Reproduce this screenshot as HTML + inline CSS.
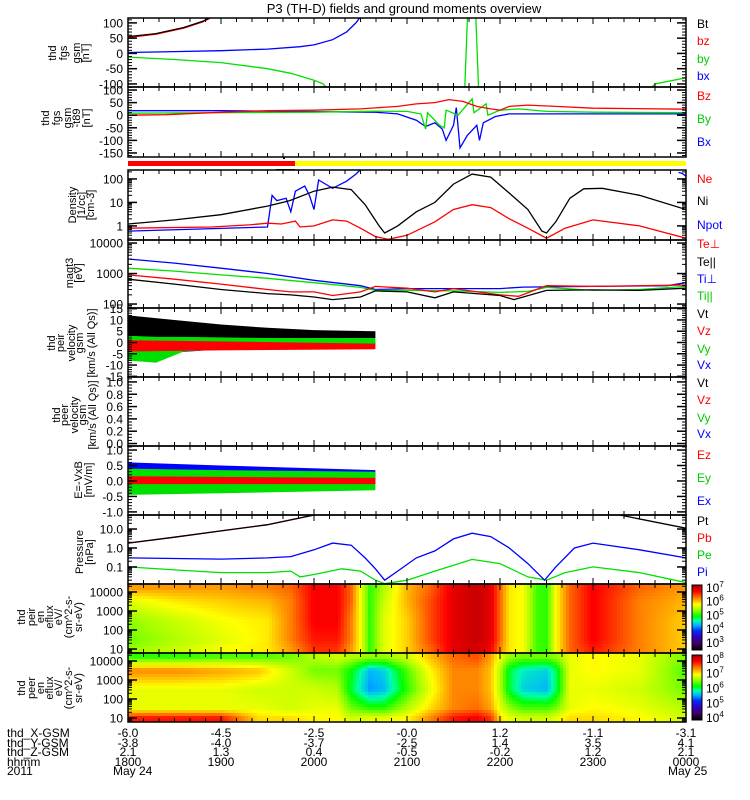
<!DOCTYPE html>
<html><head><meta charset="utf-8"><title>P3 (TH-D) overview</title>
<style>
html,body{margin:0;padding:0;background:#fff;}
svg{display:block;font-family:"Liberation Sans",sans-serif;}
text{fill:#000;}
</style></head>
<body>
<svg id="chart" width="750" height="800" viewBox="0 0 750 800">
<rect x="0" y="0" width="750" height="800" fill="#fff"/>
<text x="404" y="13" font-size="13" text-anchor="middle">P3 (TH-D) fields and ground moments overview</text>
<g id="heat"></g>
<g id="marks"></g>
<g id="axes"></g>
</svg>
<script>
// ---------- data ----------
const hourLabels = ["1800","1900","2000","2100","2200","2300","0000"];
const posX = ["-6.0","-4.5","-2.5","-0.0","1.2","-1.1","-3.1"];
const posY = ["-3.8","-4.0","-3.7","-2.5","1.4","3.5","4.1"];
const posZ = ["2.1","1.3","0.4","-0.5","-0.2","1.2","2.1"];

const fgsBt = [[0,55],[0.3,65],[0.6,85],[0.8,105],[0.9,120]];
const fgsBz = [[0,52],[0.3,63],[0.6,83],[0.8,103],[0.9,118]];
const fgsBx = [[0,3],[0.5,6],[1.0,9],[1.5,14],[1.85,22],[2.0,28],[2.2,45],[2.35,70],[2.45,100],[2.5,120]];
const fgsBy = [[0,-12],[0.5,-20],[1.0,-30],[1.5,-50],[1.75,-65],[2.0,-88],[2.1,-100],[2.15,-120]];
const fgsBySpike = [[3.62,-120],[3.66,200],[3.73,200],[3.77,-120]];
const fgsByEnd = [[5.6,-120],[5.67,-100],[6.0,-80]];

const t89Bz = [[0,0],[0.4,2],[0.9,10],[1.5,18],[2.0,20],[2.5,25],[2.66,29],[2.9,35],[3.1,45],[3.3,50],[3.45,62],[3.6,55],[3.75,35],[3.9,25],[4.0,20],[4.1,35],[4.3,40],[4.6,35],[5.0,28],[6.0,24]];
const t89By = [[0,8],[2.0,12],[2.66,16],[3.0,15],[3.15,5],[3.2,-55],[3.22,10],[3.35,-40],[3.4,-50],[3.42,20],[3.55,0],[3.7,65],[3.72,10],[3.85,45],[3.87,0],[4.0,20],[4.2,25],[4.5,15],[5.0,12],[6.0,10]];
const t89Bx = [[0,18],[1.0,18],[2.0,14],[2.66,12],[2.9,5],[3.1,-20],[3.2,-45],[3.3,-30],[3.38,-55],[3.42,-100],[3.5,-40],[3.53,30],[3.57,-130],[3.65,-80],[3.75,-40],[3.78,-100],[3.82,-30],[3.95,-5],[4.1,5],[4.5,5],[6.0,5]];

const densNi = [[0,1.2],[0.5,1.8],[1.0,3],[1.5,7],[1.74,12],[2.0,30],[2.2,45],[2.4,35],[2.55,8],[2.7,1],[2.76,0.5],[2.9,1.0],[3.1,4],[3.3,10],[3.5,60],[3.7,160],[3.9,120],[4.1,25],[4.3,5],[4.45,0.6],[4.5,0.5],[4.6,1.5],[4.75,15],[4.9,38],[5.1,40],[5.5,20],[6.0,5]];
const densNe = [[0,0.8],[0.9,0.9],[1.3,1.1],[1.5,1.3],[1.65,1.2],[1.8,1.6],[1.85,0.9],[2.0,1.0],[2.2,1.8],[2.35,1.6],[2.5,0.8],[2.66,0.35],[2.8,0.27],[3.0,0.4],[3.3,1.5],[3.5,5],[3.7,8],[3.9,6],[4.1,2],[4.3,0.8],[4.5,0.3],[4.7,0.8],[5.0,1.8],[5.5,1.0],[6.0,0.3]];
const densNpot = [[0,0.6],[1.5,0.9],[1.55,20],[1.6,12],[1.7,15],[1.75,4],[1.8,30],[1.9,50],[1.95,20],[2.0,5],[2.05,90],[2.2,40],[2.35,80],[2.45,160],[2.5,250]];
const densNpotEnd = [[5.92,190],[5.96,170],[6.0,130]];

const tempTiPerp = [[0,3000],[0.5,2200],[1.0,1500],[1.5,1000],[2.0,600],[2.5,400],[2.66,300],[3.0,320],[4.0,320],[4.25,360],[5.0,380],[5.8,400],[6.0,500]];
const tempTiPar = [[0,1500],[0.5,1200],[1.0,900],[1.5,700],[2.0,500],[2.5,350],[2.66,280],[3.0,280],[3.5,270],[4.0,240],[4.3,260],[4.5,350],[5.0,280],[5.5,300],[6.0,380]];
const tempTePerp = [[0,900],[0.5,650],[1.0,450],[1.5,300],[1.75,250],[2.0,250],[2.2,190],[2.5,250],[2.66,380],[3.0,330],[3.3,250],[3.5,320],[4.0,200],[4.2,180],[4.5,400],[5.0,380],[6.0,420]];
const tempTePar = [[0,650],[0.5,450],[1.0,300],[1.5,220],[1.75,200],[2.0,170],[2.2,140],[2.5,170],[2.66,270],[3.0,250],[3.3,160],[3.5,250],[4.0,190],[4.15,140],[4.5,280],[5.0,290],[5.5,280],[6.0,330]];

// envelopes [t, low, high]
const velVt = [[0,0,12],[0.5,0,10],[1.0,1,8],[1.5,1.5,6.5],[2.0,2,5.5],[2.66,2,5]];
const velVx = [[0,-6,2],[1.0,-3,1],[2.66,-1,0.5]];
const velVy = [[0,-8,3],[0.3,-9,2.5],[0.6,-4,2.5],[1.5,-2,2],[2.66,-1,2]];
const velVz = [[0,-4,1],[1.0,-3.5,0.5],[2.66,-3,-0.5]];
const efEx = [[0,-0.4,0.6],[1.0,-0.2,0.5],[2.66,-0.1,0.35]];
const efEy = [[0,-0.45,0.4],[1.0,-0.4,0.35],[2.66,-0.3,0.3]];
const efEz = [[0,-0.1,0.15],[2.66,-0.1,0.1]];

const presPt = [[0,1.8],[0.5,3.7],[1.0,8],[1.5,17],[2.0,55],[2.1,80]];
const presPtEnd = [[5.2,70],[5.25,60],[6.0,11]];
const presPi = [[0,0.3],[0.5,0.28],[1.0,0.26],[1.5,0.3],[1.75,0.35],[2.0,0.8],[2.2,1.8],[2.4,1.4],[2.55,0.3],[2.66,0.08],[2.76,0.02],[2.9,0.06],[3.1,0.3],[3.3,0.7],[3.5,3],[3.7,6],[3.9,4],[4.1,1],[4.3,0.15],[4.48,0.02],[4.6,0.1],[4.8,1],[5.0,1.8],[5.5,0.8],[6.0,0.3]];
const presPe = [[0,0.1],[0.5,0.07],[1.0,0.05],[1.5,0.05],[1.75,0.06],[1.85,0.03],[2.0,0.04],[2.3,0.08],[2.5,0.06],[2.66,0.02],[2.76,0.013],[3.0,0.02],[3.3,0.06],[3.7,0.25],[4.0,0.15],[4.3,0.03],[4.5,0.02],[4.7,0.05],[5.0,0.1],[5.5,0.05],[6.0,0.015]];

// spectrogram grids: log10 energy rows, time columns, log10 flux
const specEnergies = [4.2,3.5,2.5,1.5,1.0];
const peirTimes = [0,0.5,1.0,1.5,1.75,2.0,2.25,2.4,2.5,2.6,2.75,3.0,3.25,3.5,3.75,3.9,4.0,4.1,4.25,4.4,4.5,4.6,4.75,5.0,5.5,6.0];
const peirFlux = [
[6.1,5.6,5.3,5.2,5.3],[6.1,5.8,5.5,5.4,5.5],[6.1,5.9,5.7,5.6,5.7],[6.2,6.0,5.8,5.8,5.8],[6.3,6.2,6.2,6.2,6.1],
[6.7,6.7,6.7,6.6,6.5],[6.7,6.7,6.7,6.6,6.5],[6.3,6.3,6.2,6.2,6.1],[5.7,5.7,5.7,5.7,5.7],[5.0,5.0,5.0,5.0,5.0],
[5.4,5.5,5.6,5.6,5.6],[6.0,6.0,5.9,5.9,5.9],[6.3,6.4,6.4,6.4,6.3],[6.8,6.8,6.8,6.8,6.8],[6.95,6.95,6.95,6.95,6.9],
[6.8,6.8,6.8,6.8,6.7],[6.3,6.3,6.3,6.3,6.2],[5.8,5.8,5.8,5.8,5.8],[5.7,5.7,5.7,5.7,5.7],[5.05,5.05,5.05,5.05,5.05],
[5.0,5.0,5.0,5.0,5.0],[5.7,5.7,5.7,5.7,5.7],[6.3,6.3,6.3,6.3,6.3],[6.7,6.7,6.7,6.7,6.6],[6.3,6.2,6.2,6.2,6.2],[6.1,6.0,5.9,5.9,5.9]];
const peerTimes = [0,0.5,1.0,1.4,1.75,2.0,2.25,2.4,2.6,2.75,3.0,3.25,3.5,3.75,3.9,4.0,4.1,4.25,4.5,4.6,4.75,5.0,5.5,6.0];
const peerFlux = [
[6.2,7.3,6.8,6.8,7.7],[6.2,7.3,6.8,6.8,7.7],[6.3,7.2,6.8,6.8,7.7],[6.3,7.1,6.7,6.8,7.0],[6.4,6.7,6.7,6.7,7.0],
[6.6,6.4,6.7,6.8,6.9],[6.7,6.4,6.6,6.8,6.9],[6.6,6.1,6.0,6.4,6.7],[6.5,5.5,5.4,6.2,6.8],[6.5,5.6,5.5,6.2,6.8],
[6.7,6.3,6.2,6.6,6.9],[7.1,6.9,6.8,7.0,7.3],[7.4,7.3,7.3,7.3,7.7],[7.5,7.3,7.3,7.4,7.8],[7.2,7.1,7.1,7.2,7.6],
[6.8,6.6,6.6,6.8,7.0],[6.5,6.0,6.0,6.5,6.8],[6.4,5.7,5.6,6.3,6.7],[6.4,5.6,5.5,6.3,6.7],[6.5,5.9,5.9,6.4,6.8],
[6.8,6.8,6.8,6.8,7.0],[6.9,6.9,6.8,6.9,7.0],[6.8,6.8,6.7,6.8,6.9],[6.4,6.3,6.4,6.6,6.7]];

// ---------- layout ----------
const NS = "http://www.w3.org/2000/svg";
const X0 = 128, X1 = 686, PXH = 93;
const panels = {
 p1:{y0:18,y1:87,log:false,d0:-110,d1:116},
 p2:{y0:87,y1:157,log:false,d0:-166,d1:112},
 p3:{y0:170,y1:240,log:true,d0:-0.6,d1:2.38},
 p4:{y0:240,y1:308,log:true,d0:1.87,d1:4.1},
 p5:{y0:308,y1:377,log:false,d0:-15.3,d1:15.3},
 p6:{y0:377,y1:446,log:false,d0:-0.04,d1:1.08},
 p7:{y0:446,y1:515,log:false,d0:-1.1,d1:1.13},
 p8:{y0:515,y1:584,log:true,d0:-1.9,d1:1.74},
 p9:{y0:584,y1:653,log:true,d0:0.79,d1:4.42},
 p10:{y0:653,y1:722,log:true,d0:0.79,d1:4.42}
};
function sx(t){ return X0 + t*PXH; }
function sy(p,v){ const P=panels[p]; const a=P.log?Math.log10(v):v; return P.y1-(a-P.d0)/(P.d1-P.d0)*(P.y1-P.y0); }
function mk(tag, attrs, parent){ const e=document.createElementNS(NS,tag); for(const k in attrs) e.setAttribute(k,attrs[k]); (parent||document.getElementById('marks')).appendChild(e); return e; }

const svg = document.getElementById('chart');
const defs = mk('defs',{},svg);
for (const p in panels){
  const P=panels[p];
  const cp = mk('clipPath',{id:'clip-'+p},defs);
  mk('rect',{x:X0,y:P.y0,width:X1-X0,height:P.y1-P.y0},cp);
}

function line(p, data, color, name){
  const pts = data.map(d=>sx(d[0]).toFixed(1)+','+sy(p,d[1]).toFixed(1)).join(' ');
  const el = mk('polyline',{points:pts,fill:'none',stroke:color,'stroke-width':1.3,'clip-path':'url(#clip-'+p+')'});
  
  
}
function band(p, data, color, name){
  const up = data.map(d=>sx(d[0]).toFixed(1)+','+sy(p,d[2]).toFixed(1));
  const lo = data.slice().reverse().map(d=>sx(d[0]).toFixed(1)+','+sy(p,d[1]).toFixed(1));
  const el = mk('polygon',{points:up.concat(lo).join(' '),fill:color,'clip-path':'url(#clip-'+p+')'});
  
  
}

// colormap
const cstops=[[0,[0,0,0]],[0.1,[64,0,96]],[0.2,[48,0,192]],[0.3,[0,48,255]],[0.38,[0,176,255]],[0.45,[0,255,176]],[0.52,[0,255,0]],[0.62,[160,255,0]],[0.7,[255,255,0]],[0.8,[255,128,0]],[0.9,[255,0,0]],[1,[160,0,0]]];
function cmap(f){
  f=Math.max(0,Math.min(1,f));
  for(let i=1;i<cstops.length;i++){ if(f<=cstops[i][0]){ const a=cstops[i-1],b=cstops[i]; const u=(f-a[0])/(b[0]-a[0]); const c=a[1].map((v,k)=>Math.round(v+(b[1][k]-v)*u)); return 'rgb('+c.join(',')+')'; } }
  return 'rgb(160,0,0)';
}
function lerpIdx(arr, v){
  if(v<=arr[0]) return [0,0,0]; if(v>=arr[arr.length-1]) return [arr.length-1,arr.length-1,0];
  for(let i=1;i<arr.length;i++) if(v<=arr[i]) return [i-1,i,(v-arr[i-1])/(arr[i]-arr[i-1])];
}
function specValue(times, flux, t, le){
  const [i0,i1,u]=lerpIdx(times,t);
  const eAsc = specEnergies.slice().reverse();
  const [j0,j1,w]=lerpIdx(eAsc,le);
  const n=specEnergies.length;
  const g=(i,j)=>flux[i][n-1-j];
  const a=g(i0,j0)*(1-w)+g(i0,j1)*w, b=g(i1,j0)*(1-w)+g(i1,j1)*w;
  return a*(1-u)+b*u;
}
function spectrogram(p, times, flux, vmin, vmax, name){
  const P=panels[p]; const g=mk('g',{},document.getElementById('heat'));
  
  
  const step=3;
  for(let x=X0;x<X1;x+=step){
    const t=(x+step/2-X0)/PXH;
    for(let y=P.y0;y<P.y1;y+=step){
      const le=P.d1-((y+step/2-P.y0)/(P.y1-P.y0))*(P.d1-P.d0);
      const v=specValue(times,flux,t,le);
      mk('rect',{x:x,y:y,width:step+0.4,height:step+0.4,fill:cmap((v-vmin)/(vmax-vmin))},g);
    }
  }
}
spectrogram('p9', peirTimes, peirFlux, 2.4, 7.15, 'peir-spectrogram');
spectrogram('p10', peerTimes, peerFlux, 3.8, 8.2, 'peer-spectrogram');

// series
line('p1', fgsBx, '#0000ff', 'fgs-bx');
line('p1', fgsBy, '#00e000', 'fgs-by');
line('p1', fgsBySpike, '#00e000', 'fgs-by-spike');
line('p1', fgsByEnd, '#00e000', 'fgs-by-end');
line('p1', fgsBz, '#ff0000', 'fgs-bz');
line('p1', fgsBt, '#000000', 'fgs-bt');
line('p2', t89Bx, '#0000ff', 't89-bx');
line('p2', t89By, '#00e000', 't89-by');
line('p2', t89Bz, '#ff0000', 't89-bz');
line('p3', densNpot, '#0000ff', 'density-npot');
line('p3', densNpotEnd, '#0000ff', 'density-npot-end');
line('p3', densNi, '#000000', 'density-ni');
line('p3', densNe, '#ff0000', 'density-ne');
line('p4', tempTiPerp, '#0000ff', 'temp-ti-perp');
line('p4', tempTiPar, '#00e000', 'temp-ti-par');
line('p4', tempTePerp, '#ff0000', 'temp-te-perp');
line('p4', tempTePar, '#000000', 'temp-te-par');
band('p5', velVt, '#000000', 'peir-vt');
band('p5', velVx, '#0000ff', 'peir-vx');
band('p5', velVy, '#00e000', 'peir-vy');
band('p5', velVz, '#ff0000', 'peir-vz');
band('p7', efEx, '#0000ff', 'efield-ex');
band('p7', efEy, '#00e000', 'efield-ey');
band('p7', efEz, '#ff0000', 'efield-ez');
line('p8', presPe, '#00e000', 'pressure-pe');
line('p8', presPi, '#0000ff', 'pressure-pi');
line('p8', presPt, '#ff0000', 'pressure-pb');
line('p8', presPt, '#000000', 'pressure-pt');
line('p8', presPtEnd, '#000000', 'pressure-pt-end');

// mode bar
const ax = document.getElementById('axes');
let el;
el = mk('rect',{x:X0,y:161,width:295-X0,height:5,fill:'#ff0000'},ax);


el = mk('rect',{x:295,y:161,width:X1-295,height:5,fill:'#ffff00'},ax);


mk('rect',{x:283,y:157,width:2,height:2,fill:'#000'},ax);
mk('line',{x1:276,y1:169.5,x2:295,y2:169.5,stroke:'#000','stroke-width':1},ax);

// axes
const yTicks = {
 p1:{major:[-100,-50,0,50,100],labels:["-100","-50","0","50","100"],minor:10},
 p2:{major:[-150,-100,-50,0,50,100],labels:["-150","-100","-50","0","50","100"],minor:10},
 p3:{major:[1,10,100],labels:["1","10","100"]},
 p4:{major:[100,1000,10000],labels:["100","1000","10000"]},
 p5:{major:[-15,-10,-5,0,5,10,15],labels:["-15","-10","-5","0","5","10","15"],minor:1},
 p6:{major:[0,0.2,0.4,0.6,0.8,1.0],labels:["0.0","0.2","0.4","0.6","0.8","1.0"],minor:0.05},
 p7:{major:[-1,-0.5,0,0.5,1],labels:["-1.0","-0.5","0.0","0.5","1.0"],minor:0.1},
 p8:{major:[0.1,1,10],labels:["0.1","1.0","10.0"]},
 p9:{major:[10,100,1000,10000],labels:["10","100","1000","10000"]},
 p10:{major:[10,100,1000,10000],labels:["10","100","1000","10000"]}
};
for(const p in panels){
  const P=panels[p], T=yTicks[p];
  const g=mk('g',{},ax);
  
  
  for(let m=10;m<360;m+=10){ const x=sx(m/60); const L=(m%60===0)?6:4;
    mk('line',{x1:x,y1:P.y0,x2:x,y2:P.y0+L,stroke:'#000','stroke-width':1},g);
    mk('line',{x1:x,y1:P.y1,x2:x,y2:P.y1-L,stroke:'#000','stroke-width':1},g); }
  const minors=[];
  if(P.log){ for(let d=Math.floor(P.d0);d<=Math.ceil(P.d1);d++) for(let k=2;k<=9;k++){ const v=k*Math.pow(10,d); const lv=Math.log10(v); if(lv>P.d0&&lv<P.d1) minors.push(v);} }
  else { for(let v=Math.ceil(P.d0/T.minor)*T.minor; v<P.d1; v+=T.minor) minors.push(v); }
  minors.forEach(v=>{ const y=sy(p,v); mk('line',{x1:X0,y1:y,x2:X0+4,y2:y,stroke:'#000'},g); mk('line',{x1:X1,y1:y,x2:X1-4,y2:y,stroke:'#000'},g); });
  T.major.forEach((v,i)=>{ const y=sy(p,v); mk('line',{x1:X0,y1:y,x2:X0+9,y2:y,stroke:'#000','stroke-width':1.5},g); mk('line',{x1:X1,y1:y,x2:X1-9,y2:y,stroke:'#000','stroke-width':1.5},g);
    const t=mk('text',{x:123,y:y+4.5,'font-size':12,'text-anchor':'end'},g); t.textContent=T.labels[i];
    
     });
  mk('rect',{x:X0,y:P.y0,width:X1-X0,height:P.y1-P.y0,fill:'none',stroke:'#000','stroke-width':1.5},g);
}

// left titles
function vtitle(lines, xs, cy, name, fs){
  const g=mk('g',{},ax);
  
  
  lines.forEach((s,i)=>{ const t=mk('text',{transform:'translate('+xs[i]+','+cy+') rotate(-90)','font-size':fs||11,'text-anchor':'middle','dominant-baseline':'central'},g); t.textContent=s; });
}
vtitle(["thd","fgs","gsm","[nT]"],[53,64,77,86],53,'fgs-title');
vtitle(["thd","fgs","gsm","-t89","[nT]"],[46,57,68,77,87],118,'t89-title');
vtitle(["Density","[1/cc]","[cm-3]"],[73,82,91],205,'density-title');
vtitle(["magt3","[eV]"],[70,79],273,'temp-title');
vtitle(["thd","peir","velocity","gsm","[km/s (All Qs)]"],[52,61,72,80,92],343,'peir-vel-title');
vtitle(["thd","peer","velocity","gsm","[km/s (All Qs)]"],[57,65,75,83,93],415,'peer-vel-title');
vtitle(["E=-VxB","[mV/m]"],[79,89],480,'efield-title');
vtitle(["Pressure","[nPa]"],[80,90],552,'pressure-title');
vtitle(["thd","peir","en","eflux","eV/","(cm^2-s-","sr-eV)"],[22,32,41,50,59,69,79],617,'peir-spec-title');
vtitle(["thd","peer","en","eflux","eV/","(cm^2-s-","sr-eV)"],[22,32,41,50,59,69,79],688,'peer-spec-title');

// right legends
const legends=[["Bt",24,"#000"],["bz",41,"#f00"],["by",59,"#0c0"],["bx",76,"#00f"],
["Bz",96,"#f00"],["By",119,"#0c0"],["Bx",142,"#00f"],
["Ne",179,"#f00"],["Ni",201,"#000"],["Npot",225,"#00f"],
["Te\u22A5",244,"#f00"],["Te||",262,"#000"],["Ti\u22A5",279,"#00f"],["Ti||",296,"#0c0"],
["Vt",314,"#000"],["Vz",331,"#f00"],["Vy",349,"#0c0"],["Vx",365,"#00f"],
["Vt",383,"#000"],["Vz",400,"#f00"],["Vy",418,"#0c0"],["Vx",434,"#00f"],
["Ez",455,"#f00"],["Ey",478,"#0c0"],["Ex",501,"#00f"],
["Pt",521,"#000"],["Pb",538,"#f00"],["Pe",555,"#0c0"],["Pi",572,"#00f"]];
legends.forEach(l=>{ const t=mk('text',{x:697,y:l[1]+4,'font-size':12,style:'fill:'+l[2]},ax); t.textContent=l[0];
  
   });

// colorbars
function colorbar(y0,y1,vmin,vmax,exps,name){
  const g=mk('g',{},ax);
  
  
  for(let y=y0;y<y1;y++){ const f=(y1-y-0.5)/(y1-y0); mk('rect',{x:692,y:y,width:10,height:1.2,fill:cmap(f)},g); }
  mk('rect',{x:692,y:y0,width:10,height:y1-y0,fill:'none',stroke:'#000'},g);
  exps.forEach(e=>{ const y=y1-(e-vmin)/(vmax-vmin)*(y1-y0); const t=mk('text',{x:706,y:y+5,'font-size':12},g);
    t.textContent='10'; const s=mk('tspan',{dy:-5,'font-size':8},t); s.textContent=String(e); });
}
colorbar(585,650,2.4,7.15,[3,4,5,6,7],'peir-colorbar');
colorbar(655,720,3.8,8.2,[4,5,6,7,8],'peer-colorbar');

// bottom labels
const rowsY=[737,747,756,766,775];
[["thd_X-GSM",0],["thd_Y-GSM",1],["thd_Z-GSM",2],["hhmm",3],["2011",4]].forEach(r=>{ const t=mk('text',{x:7,y:rowsY[r[1]],'font-size':12},ax); t.textContent=r[0];
  
   });
hourLabels.forEach((h,i)=>{ const x=sx(i);
  [posX[i],posY[i],posZ[i],h].forEach((s,k)=>{ const t=mk('text',{x:x,y:rowsY[k],'font-size':12,'text-anchor':'middle'},ax); t.textContent=s;
    
     }); });
let d1=mk('text',{x:sx(0)-15,y:rowsY[4],'font-size':12},ax); d1.textContent='May 24';
let d2=mk('text',{x:sx(6)-18,y:rowsY[4],'font-size':12},ax); d2.textContent='May 25';
</script>
</body></html>
